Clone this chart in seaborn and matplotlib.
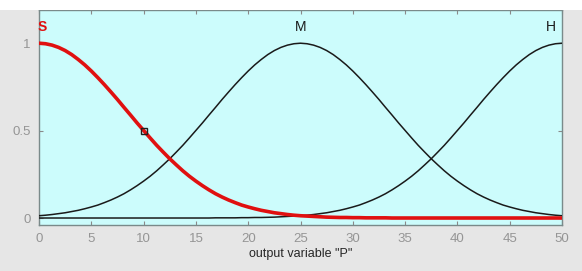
import matplotlib
matplotlib.use("Agg")
import matplotlib.pyplot as plt
import seaborn as sns
import pandas as pd
from matplotlib.patches import Rectangle

# ---- data (membership values) ----
x_vals = [i * 0.625 for i in range(81)]
mf_S = [1.000, 0.997, 0.989, 0.976, 0.958, 0.935, 0.907, 0.876, 0.841, 0.803,
        0.763, 0.721, 0.678, 0.633, 0.589, 0.544, 0.501, 0.458, 0.416, 0.377,
        0.339, 0.304, 0.270, 0.239, 0.211, 0.185, 0.161, 0.139, 0.120, 0.103,
        0.088, 0.074, 0.063, 0.053, 0.044, 0.037, 0.030, 0.025, 0.020, 0.016,
        0.013, 0.011, 0.009, 0.007, 0.005, 0.004, 0.003, 0.003, 0.002, 0.002,
        0.001, 0.001, 0.001, 0.001, 0.0, 0.0, 0.0, 0.0, 0.0, 0.0,
        0.0, 0.0, 0.0, 0.0, 0.0, 0.0, 0.0, 0.0, 0.0, 0.0,
        0.0, 0.0, 0.0, 0.0, 0.0, 0.0, 0.0, 0.0, 0.0, 0.0,
        0.0]
mf_M = [0.013, 0.016, 0.020, 0.025, 0.030, 0.037, 0.044, 0.053, 0.063, 0.074,
        0.088, 0.103, 0.120, 0.139, 0.161, 0.185, 0.211, 0.239, 0.270, 0.304,
        0.339, 0.377, 0.416, 0.458, 0.501, 0.544, 0.589, 0.633, 0.678, 0.721,
        0.763, 0.803, 0.841, 0.876, 0.907, 0.935, 0.958, 0.976, 0.989, 0.997,
        1.000,
        0.997, 0.989, 0.976, 0.958, 0.935, 0.907, 0.876, 0.841, 0.803, 0.763,
        0.721, 0.678, 0.633, 0.589, 0.544, 0.501, 0.458, 0.416, 0.377, 0.339,
        0.304, 0.270, 0.239, 0.211, 0.185, 0.161, 0.139, 0.120, 0.103, 0.088,
        0.074, 0.063, 0.053, 0.044, 0.037, 0.030, 0.025, 0.020, 0.016, 0.013]
mf_H = [0.0, 0.0, 0.0, 0.0, 0.0, 0.0, 0.0, 0.0, 0.0, 0.0,
        0.0, 0.0, 0.0, 0.0, 0.0, 0.0, 0.0, 0.0, 0.0, 0.0,
        0.0, 0.0, 0.0, 0.0, 0.0, 0.0, 0.0,
        0.001, 0.001, 0.001, 0.001, 0.002, 0.002, 0.003, 0.003, 0.004, 0.005,
        0.007, 0.009, 0.011,
        0.013, 0.016, 0.020, 0.025, 0.030, 0.037, 0.044, 0.053, 0.063, 0.074,
        0.088, 0.103, 0.120, 0.139, 0.161, 0.185, 0.211, 0.239, 0.270, 0.304,
        0.339, 0.377, 0.416, 0.458, 0.501, 0.544, 0.589, 0.633, 0.678, 0.721,
        0.763, 0.803, 0.841, 0.876, 0.907, 0.935, 0.958, 0.976, 0.989, 0.997,
        1.000]
mf_names = ["S", "M", "H"]
mf_peaks = [0, 25, 50]
marker_x = [10]
marker_y = [0.5]
x_ticks = [0, 5, 10, 15, 20, 25, 30, 35, 40, 45, 50]
y_ticks = [0, 0.5, 1]
y_ticklabels = ["0", "0.5", "1"]
x_label = 'output variable "P"'

sns.set_style("ticks")
plt.rcParams["font.family"] = ["Liberation Sans", "DejaVu Sans"]

fig = plt.figure(figsize=(5.82, 2.71), dpi=100)
fig.patch.set_facecolor("#e6e6e6")
fig.patches.append(Rectangle((0, 1 - 10 / 271), 1, 10 / 271, transform=fig.transFigure,
                             facecolor="white", edgecolor="none", zorder=0))
ax = fig.add_axes([39 / 582, 1 - 225 / 271, (562 - 39) / 582, (225 - 10) / 271])
ax.set_facecolor("#ccfcfc")

df = pd.DataFrame({"x": x_vals, "S": mf_S, "M": mf_M, "H": mf_H})
sns.lineplot(data=df, x="x", y="H", ax=ax, color="#1a1a1a", linewidth=1.1, zorder=3)
sns.lineplot(data=df, x="x", y="M", ax=ax, color="#1a1a1a", linewidth=1.1, zorder=3)
sns.lineplot(data=df, x="x", y="S", ax=ax, color="#e01010", linewidth=2.6, zorder=4)
ax.plot(marker_x, marker_y, marker="s", markersize=5, markerfacecolor="none",
        markeredgecolor="#202020", markeredgewidth=1.0, linestyle="none", zorder=5)

colors = {"S": "#e01010", "M": "#1a1a1a", "H": "#1a1a1a"}
aligns = {"S": "left", "M": "center", "H": "right"}
offsets = {"S": -0.1, "M": 0, "H": -0.6}
for name, pk in zip(mf_names, mf_peaks):
    ax.text(pk + offsets[name], 1.09, name, color=colors[name], ha=aligns[name],
            va="center", fontsize=10, fontweight="bold" if name == "S" else "normal",
            zorder=6)

ax.set_xlim(0, 50)
ax.set_ylim(-0.04, 1.19)
ax.set_xticks(x_ticks)
ax.set_xticklabels([str(t) for t in x_ticks])
ax.set_yticks(y_ticks)
ax.set_yticklabels(y_ticklabels)
ax.set_xlabel(x_label, fontsize=9, color="#262626", labelpad=2)
ax.set_ylabel("")
ax.tick_params(direction="in", length=3, width=0.8, colors="#8a8a8a",
               labelsize=9.5, top=True, right=True, pad=6)
ax.tick_params(axis="both", labelcolor="#959595")
for s in ax.spines.values():
    s.set_visible(True)
    s.set_color("#7a8a8a")
    s.set_linewidth(1.0)

fig.savefig("out.png", dpi=100, facecolor=fig.get_facecolor())
